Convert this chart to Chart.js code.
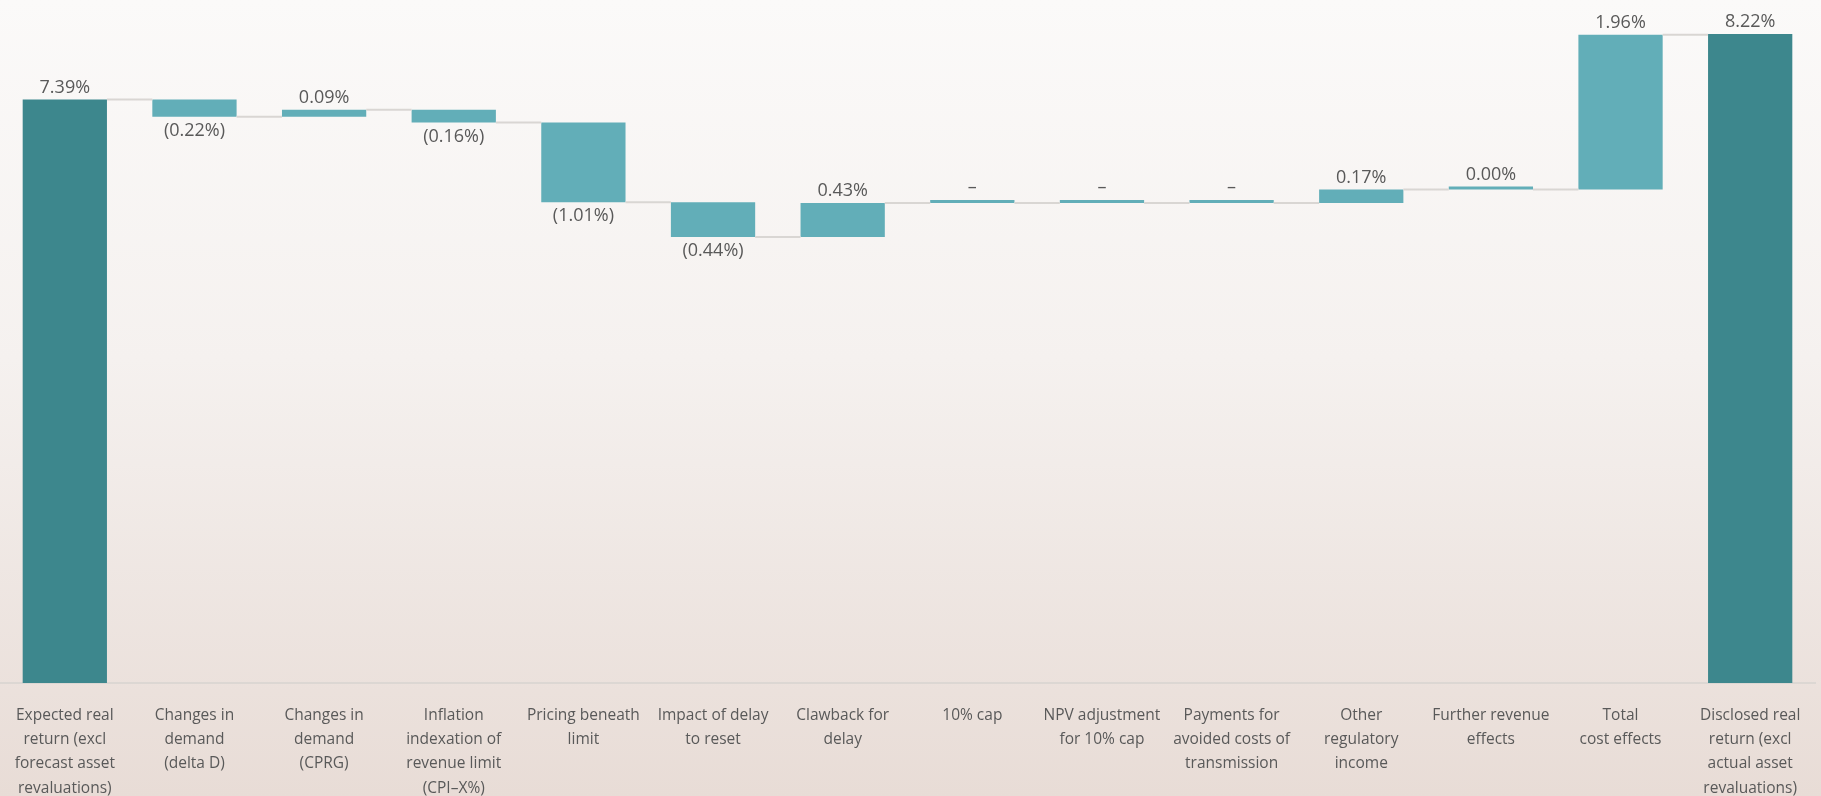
<!DOCTYPE html>
<html>
<head>
<meta charset="utf-8">
<script src="https://cdn.jsdelivr.net/npm/chart.js@4"></script>
<style>
  html, body { margin: 0; padding: 0; }
  body {
    width: 1821px; height: 796px; overflow: hidden;
    background: linear-gradient(to bottom, #fbfaf9 0%, #f5f1ef 45%, #e8dcd6 100%);
  }
  #wrap { position: relative; width: 1821px; height: 796px; }
</style>
</head>
<body>
<div id="wrap"><canvas id="chart-waterfall"></canvas></div>
<script>
var categories = [
  ["Expected real", "return (excl", "forecast asset", "revaluations)"],
  ["Changes in", "demand", "(delta D)"],
  ["Changes in", "demand", "(CPRG)"],
  ["Inflation", "indexation of", "revenue limit", "(CPI\u2013X%)"],
  ["Pricing beneath", "limit"],
  ["Impact of delay", "to reset"],
  ["Clawback for", "delay"],
  ["10% cap"],
  ["NPV adjustment", "for 10% cap"],
  ["Payments for", "avoided costs of", "transmission"],
  ["Other", "regulatory", "income"],
  ["Further revenue", "effects"],
  ["Total", "cost effects"],
  ["Disclosed real", "return (excl", "actual asset", "revaluations)"]
];
var values = [7.39, -0.22, 0.09, -0.16, -1.01, -0.44, 0.43, 0, 0, 0, 0.17, 0.00, 1.96, 8.22];
var isTotal = [true, false, false, false, false, false, false, false, false, false, false, false, false, true];
var valueLabels = ["7.39%", "(0.22%)", "0.09%", "(0.16%)", "(1.01%)", "(0.44%)", "0.43%", "\u2013", "\u2013", "\u2013", "0.17%", "0.00%", "1.96%", "8.22%"];

var darkTeal = "#3d878d";
var lightTeal = "#62aeb8";
var textGrey = "#595959";

// floating bars from running total
var ranges = [];
var running = 0;
for (var i = 0; i < values.length; i++) {
  if (isTotal[i]) {
    ranges.push([0, values[i]]);
    running = values[i];
  } else {
    ranges.push([running, running + values[i]]);
    running = running + values[i];
  }
}

var waterfallExtras = {
  id: "waterfallExtras",
  afterDatasetsDraw: function (chart) {
    var ctx = chart.ctx;
    var meta = chart.getDatasetMeta(0);
    var y = chart.scales.y;
    ctx.save();
    // connectors
    ctx.strokeStyle = "#d9d6d3";
    ctx.lineWidth = 2;
    for (var i = 0; i < meta.data.length - 1; i++) {
      var a = meta.data[i], b = meta.data[i + 1];
      var level = y.getPixelForValue(ranges[i][1]);
      ctx.beginPath();
      ctx.moveTo(a.x + a.width / 2, level);
      ctx.lineTo(b.x - b.width / 2, level);
      ctx.stroke();
    }
    // value labels
    ctx.fillStyle = textGrey;
    ctx.font = "18px 'Open Sans'";
    ctx.textAlign = "center";
    for (var j = 0; j < meta.data.length; j++) {
      var bar = meta.data[j];
      var top = Math.min(bar.y, bar.base);
      var bottom = Math.max(bar.y, bar.base);
      if (values[j] < 0) {
        ctx.textBaseline = "top";
        ctx.fillText(valueLabels[j], bar.x, bottom + 5);
      } else {
        ctx.textBaseline = "bottom";
        ctx.fillText(valueLabels[j], bar.x, top - 3);
      }
    }
    ctx.restore();
  }
};

var ctx = document.getElementById("chart-waterfall");
new Chart(ctx, {
  type: "bar",
  data: {
    labels: categories,
    datasets: [{
      data: ranges,
      backgroundColor: isTotal.map(function (t) { return t ? darkTeal : lightTeal; }),
      borderWidth: 0,
      categoryPercentage: 1,
      barPercentage: 0.65,
      minBarLength: 3
    }]
  },
  options: {
    responsive: true,
    maintainAspectRatio: false,
    animation: false,
    layout: { padding: { left: 0, right: 6, top: 0, bottom: 0 } },
    plugins: {
      legend: { display: false },
      tooltip: { enabled: false }
    },
    scales: {
      y: {
        display: false,
        min: 0,
        max: 8.65
      },
      x: {
        afterFit: function (scale) {
          scale.height = 113;
          scale.paddingLeft = 0;
          scale.paddingRight = 0;
        },
        grid: { display: false, drawTicks: false },
        border: { display: true, color: "#dcd7d3", width: 2 },
        ticks: {
          autoSkip: false,
          maxRotation: 0,
          minRotation: 0,
          padding: 20,
          color: textGrey,
          font: { size: 15.5, family: "Open Sans", lineHeight: 1.57 }
        }
      }
    }
  },
  plugins: [waterfallExtras]
});
</script>
</body>
</html>
